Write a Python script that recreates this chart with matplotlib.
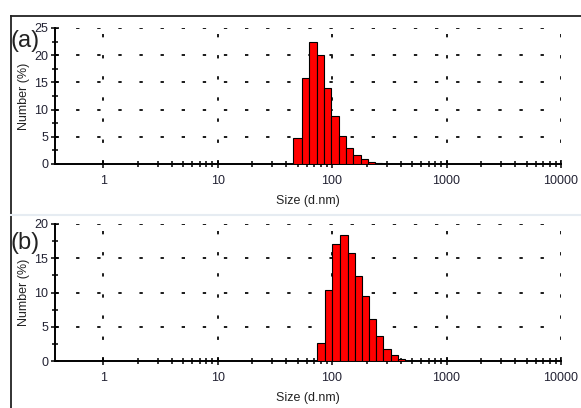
import numpy as np
import matplotlib
matplotlib.use("Agg")
import matplotlib.pyplot as plt
from matplotlib.lines import Line2D
from matplotlib.ticker import FixedLocator, NullFormatter

# === Données (distribution en nombre, DLS) ===
# bords des classes de taille (d.nm), n+1 valeurs par panneau
edges_a = [46.0, 54.3, 63.3, 73.5, 85.1, 98.6, 115.1, 132.6, 153.6, 179.4, 206.5, 237.8, 273.8]
number_a = [4.7, 15.9, 22.4, 20.0, 14.0, 8.8, 5.1, 3.0, 1.7, 1.0, 0.45, 0.18]

edges_b = [74.4, 86.9, 100.6, 117.5, 137.1, 158.0, 182.9, 211.9, 244.1, 281.1, 326.3, 377.9, 437.4]
number_b = [2.6, 10.3, 17.1, 18.4, 15.7, 12.4, 9.5, 6.2, 3.6, 1.75, 0.83, 0.25]

x_major = [1, 10, 100, 1000, 10000]
x_labels = ["1", "10", "100", "1000", "10000"]
panels = [
    ("(a)", edges_a, number_a, 25, [0, 5, 10, 15, 20, 25]),
    ("(b)", edges_b, number_b, 20, [0, 5, 10, 15, 20]),
]

plt.rcParams['font.family'] = ['Liberation Sans', 'DejaVu Sans']
plt.rcParams['lines.scale_dashes'] = False

W, H = 581, 408
fig = plt.figure(figsize=(W / 100, H / 100), dpi=100)

def px(x0, y_top, x1, y_bot):
    return [x0 / W, 1 - y_bot / H, (x1 - x0) / W, (y_bot - y_top) / H]

boxes = [px(55, 28, 561, 164), px(55, 224, 561, 361)]
label_pos = [(11, 41), (11, 243)]

# minor ticks en x : 2..9 de chaque décade à partir de 1
x_minor = [m * d for d in [1, 10, 100, 1000] for m in range(2, 10)]

dash = (0, (2.4, 12.8))

for (tag, edges, vals, ymax, yticks), box, lp in zip(panels, boxes, label_pos):
    ax = fig.add_axes(box)
    e = np.array(edges)
    ax.bar(e[:-1], vals, width=np.diff(e), align='edge',
           color='#ff0000', edgecolor='black', linewidth=0.8, zorder=3)
    ax.set_xscale('log')
    ax.set_xlim(0.38, 10000)
    ax.set_ylim(0, ymax)

    # grille pointillée
    for v in x_major:
        ax.axvline(v, color='#1a1a1a', lw=1.4, linestyle=dash, zorder=1)
    for v in yticks[1:]:
        ax.axhline(v, color='#1a1a1a', lw=1.4, linestyle=dash, zorder=1)

    ax.xaxis.set_major_locator(FixedLocator(x_major))
    ax.set_xticklabels(x_labels)
    ax.xaxis.set_minor_locator(FixedLocator(x_minor))
    ax.xaxis.set_minor_formatter(NullFormatter())
    ax.set_yticks(yticks)
    ax.yaxis.set_minor_locator(FixedLocator([t + 2.5 for t in yticks[:-1]]))

    ax.tick_params(axis='both', which='major', direction='inout', length=6, width=1.1,
                   labelsize=9, labelcolor='#222233')
    ax.tick_params(axis='both', which='minor', direction='inout', length=5, width=1.1)
    ax.tick_params(axis='x', which='major', pad=5)
    ax.tick_params(axis='y', which='major', pad=2)

    for s in ['top', 'right']:
        ax.spines[s].set_visible(False)
    for s in ['left', 'bottom']:
        ax.spines[s].set_linewidth(1.4)

    ax.set_xlabel("Size (d.nm)", fontsize=9, labelpad=6, color='#222222')
    ax.set_ylabel("Number (%)", fontsize=9, labelpad=3, color='#222222')

    fig.text(lp[0] / W, 1 - lp[1] / H, tag, fontsize=17, color='#222222',
             ha='left', va='center')

# cadre de la figure d'origine
fig.add_artist(Line2D([11 / W, 1], [1 - 16 / H, 1 - 16 / H], color='#222222', lw=1.3))
fig.add_artist(Line2D([11 / W, 11 / W], [0, 1 - 16 / H], color='#222222', lw=1.3))
fig.add_artist(Line2D([11 / W, 1], [1 - 215 / H, 1 - 215 / H], color='#e6ecf2', lw=1.5))

fig.savefig("out.png", dpi=100)
